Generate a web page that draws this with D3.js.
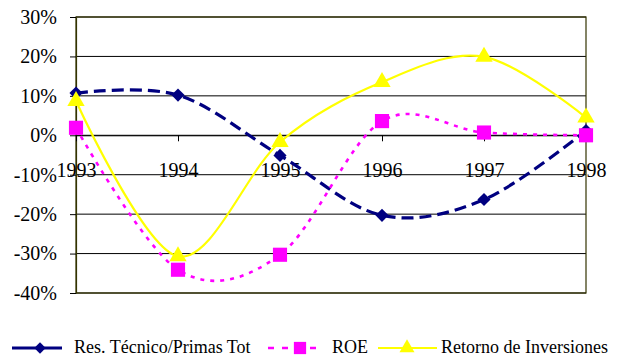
<!DOCTYPE html>
<html>
<head>
<meta charset="utf-8">
<script src="https://cdn.jsdelivr.net/npm/d3@7"></script>
<style>
  body { margin: 0; background: #fff; }
</style>
</head>
<body>
<svg id="chart" width="619" height="357"></svg>
<script>
'use strict';

let years = ["1993", "1994", "1995", "1996", "1997", "1998"];
let resTecnico = [0.107, 0.102, -0.051, -0.203, -0.163, 0.012];
let roe = [0.019, -0.341, -0.303, 0.036, 0.007, 0.0];
let retorno = [0.087, -0.307, -0.017, 0.135, 0.199, 0.045];
let yTicks = [0.3, 0.2, 0.1, 0, -0.1, -0.2, -0.3, -0.4];

let FONT = "Liberation Serif";

let series = [
    { name: "Res. Técnico/Primas Tot", values: resTecnico, color: "#000080", width: 3.2, dash: "12,6", marker: "diamond" },
    { name: "ROE", values: roe, color: "#ff00ff", width: 2.6, dash: "4,6", marker: "square" },
    { name: "Retorno de Inversiones", values: retorno, color: "#ffff00", width: 2.2, dash: null, marker: "triangle" }
];

function getChartConfig() {
    let margin = { top: 17, right: 33, bottom: 64, left: 76 },
        width = 619 - margin.left - margin.right,
        height = 357 - margin.top - margin.bottom;
    let svg = d3.select("#chart");
    let container = svg.append("g")
        .attr("transform", "translate(" + margin.left + "," + margin.top + ")");
    return { width, height, container, svg, margin };
}

function getScales(config) {
    let { width, height } = config;
    let xScale = d3.scalePoint().domain(years).range([0, width]).padding(0);
    let yScale = d3.scaleLinear().domain([-0.4, 0.3]).range([height, 0]);
    return { xScale, yScale };
}

function drawGrid(config, scales) {
    let { container, width } = config;
    let { yScale } = scales;
    yTicks.forEach(t => {
        container.append("line")
            .attr("x1", 0).attr("x2", width)
            .attr("y1", yScale(t)).attr("y2", yScale(t))
            .style("stroke", "#000")
            .style("stroke-width", 1);
    });
    // plot border
    container.append("rect")
        .attr("x", 0).attr("y", 0)
        .attr("width", width).attr("height", config.height)
        .attr("fill", "none")
        .style("stroke", "#333300")
        .style("stroke-width", 1.2);
}

function drawAxes(config, scales) {
    let { container } = config;
    let { xScale, yScale } = scales;

    let yAxis = d3.axisLeft(yScale)
        .tickValues(yTicks)
        .tickFormat(d => Math.round(d * 100) + "%")
        .tickSizeInner(6).tickSizeOuter(0).tickPadding(13);
    let gy = container.append("g").attr("class", "y axis").call(yAxis);
    gy.select(".domain").style("stroke", "#333300").style("stroke-width", 1.2);
    gy.selectAll("text")
        .attr("font-family", FONT)
        .style("font-size", "20px").attr("fill", "#000");

    let xAxis = d3.axisBottom(xScale)
        .tickSizeInner(6).tickSizeOuter(0).tickPadding(22);
    let gx = container.append("g")
        .attr("class", "x axis")
        .attr("transform", "translate(0," + yScale(0) + ")")
        .call(xAxis);
    gx.select(".domain").style("stroke", "#000");
    gx.selectAll("text")
        .attr("font-family", FONT)
        .style("font-size", "20px").attr("fill", "#000");
}

function markerPath(type, size) {
    if (type === "diamond") return d3.symbol().type(d3.symbolDiamond2).size(size)();
    if (type === "square") return d3.symbol().type(d3.symbolSquare).size(size)();
    return d3.symbol().type(d3.symbolTriangle).size(size)();
}

let markerSizes = { diamond: 110, square: 200, triangle: 130 };

function drawLines(config, scales) {
    let { container } = config;
    let { xScale, yScale } = scales;
    let line = d3.line()
        .x((d, i) => xScale(years[i]))
        .y(d => yScale(d))
        .curve(d3.curveCatmullRom.alpha(0));

    series.forEach(s => {
        let g = container.append("g");
        g.append("path")
            .datum(s.values)
            .attr("d", line)
            .attr("fill", "none")
            .style("stroke", s.color)
            .style("stroke-width", s.width)
            .style("stroke-dasharray", s.dash);
        g.selectAll(".marker")
            .data(s.values)
            .enter().append("path")
            .attr("class", "marker")
            .attr("transform", (d, i) => "translate(" + xScale(years[i]) + "," + yScale(d) + ")")
            .attr("d", markerPath(s.marker, markerSizes[s.marker]))
            .attr("fill", s.color);
    });
}

function drawLegend(config) {
    let { svg } = config;
    // line start, line end, marker x, text x
    let legendPos = [[12, 62, 40, 74], [268, 323, 300, 332], [378, 437, 407, 441]];
    let legendY = 348;
    series.forEach((s, i) => {
        let p = legendPos[i];
        let g = svg.append("g").attr("transform", "translate(0," + legendY + ")");
        g.append("line")
            .attr("x1", p[0]).attr("x2", p[1])
            .style("stroke", s.color)
            .style("stroke-width", s.width)
            .style("stroke-dasharray", i === 1 ? "6,8" : null);
        g.append("path")
            .attr("transform", "translate(" + p[2] + ",0)")
            .attr("d", markerPath(s.marker, markerSizes[s.marker] * 0.75))
            .attr("fill", s.color);
        g.append("text")
            .attr("x", p[3])
            .attr("y", 5)
            .attr("font-family", FONT)
            .style("font-size", "18px")
            .attr("fill", "#000")
            .text(s.name);
    });
}

function drawChart() {
    let config = getChartConfig();
    let scales = getScales(config);
    drawGrid(config, scales);
    drawAxes(config, scales);
    drawLines(config, scales);
    drawLegend(config);
}

drawChart();
</script>
</body>
</html>
